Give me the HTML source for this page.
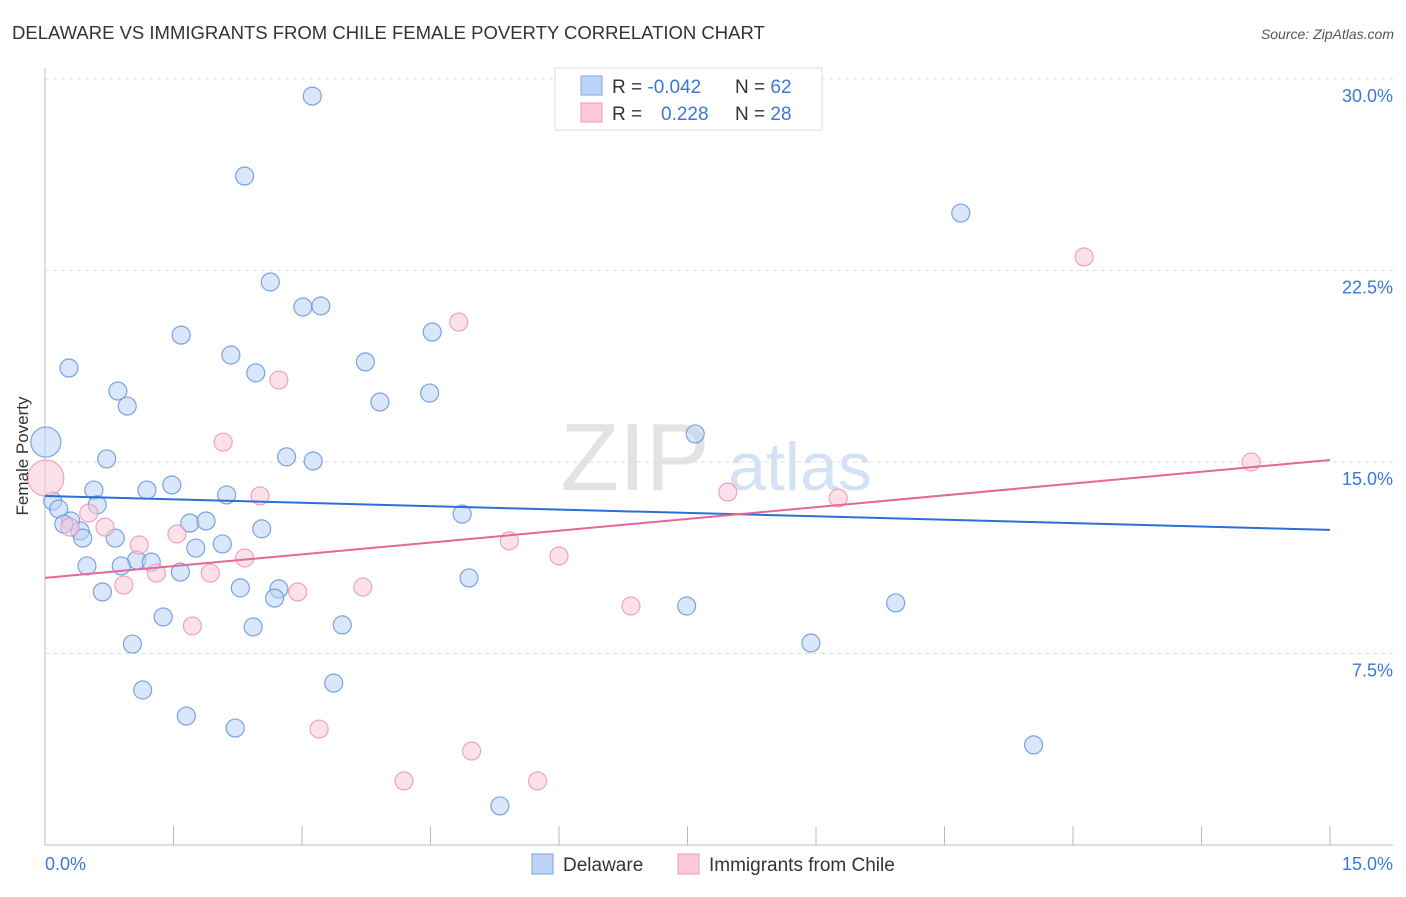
<!DOCTYPE html>
<html><head><meta charset="utf-8">
<style>
body{margin:0;background:#fff;font-family:"Liberation Sans",sans-serif;}
svg text{font-family:"Liberation Sans",sans-serif;}
</style></head>
<body>
<svg id="chart" width="1406" height="892">
  <text x="12" y="39" font-size="18.5" fill="#333">DELAWARE VS IMMIGRANTS FROM CHILE FEMALE POVERTY CORRELATION CHART</text>
  <text x="1394" y="39" font-size="14" fill="#555" font-style="italic" text-anchor="end">Source: ZipAtlas.com</text>
  <g>
    <text x="635" y="490" font-size="96" fill="#e3e3e3" font-family="Liberation Serif, serif" text-anchor="middle">ZIP</text>
    <text x="800" y="490" font-size="68" fill="#d3e2f5" text-anchor="middle">atlas</text>
  </g>
  <g id="grid"></g>
  <g id="axes"></g>
  <g id="marks"></g>
  <text transform="translate(28,456) rotate(-90)" font-size="17" fill="#333" text-anchor="middle">Female Poverty</text>
  <text x="45" y="870" font-size="18" fill="#3a78d8">0.0%</text>
  <text x="1393" y="870" font-size="18" fill="#3a78d8" text-anchor="end">15.0%</text>
  <g>
    <rect x="555" y="68" width="267" height="62" fill="#fff" stroke="#ddd"/>
    <rect x="581" y="76" width="21" height="19" fill="#bcd4f5" stroke="#7fa8e6"/>
    <rect x="581" y="103" width="21" height="19" fill="#fbc9d8" stroke="#f09ab6"/>
    <text x="612" y="93" font-size="19" fill="#333">R = <tspan fill="#3a78d8">-0.042</tspan></text>
    <text x="735" y="93" font-size="19" fill="#333">N = <tspan fill="#3a78d8">62</tspan></text>
    <text x="612" y="120" font-size="19" fill="#333">R = <tspan fill="#3a78d8" x="661">0.228</tspan></text>
    <text x="735" y="120" font-size="19" fill="#333">N = <tspan fill="#3a78d8">28</tspan></text>
  </g>
  <g>
    <rect x="532" y="854" width="21" height="20" fill="#bcd4f5" stroke="#7fa8e6"/>
    <text x="563" y="871" font-size="19" fill="#333">Delaware</text>
    <rect x="678" y="854" width="21" height="20" fill="#fbc9d8" stroke="#f09ab6"/>
    <text x="709" y="871" font-size="19" fill="#333">Immigrants from Chile</text>
  </g>
</svg>
<script>
const yTicks=[7.5,15,22.5,30];
const yTickLabels=["7.5%","15.0%","22.5%","30.0%"];
const xTicks=[0,1.5,3,4.5,6,7.5,9,10.5,12,13.5,15];
const delX=[3.12,2.33,10.69,2.63,3.01,3.22,1.59,4.52,2.17,0.28,2.46,3.74,0.85,0.96,3.91,4.49,0.01,7.59,0.72,2.82,3.13,1.48,0.57,1.19,2.12,0.09,0.61,0.16,4.87,0.30,1.69,1.88,0.22,2.53,0.41,0.44,0.82,2.07,1.76,1.07,1.24,0.49,0.89,1.58,4.95,2.28,2.73,0.67,2.68,7.49,9.93,1.38,2.43,3.47,1.02,8.94,3.37,1.14,1.65,2.22,11.54,5.31];
const delY=[29.33,26.2,24.75,22.05,21.07,21.11,19.97,20.09,19.19,18.68,18.49,18.92,17.78,17.19,17.35,17.70,15.78,16.10,15.12,15.20,15.04,14.10,13.90,13.90,13.71,13.47,13.32,13.16,12.96,12.69,12.61,12.69,12.57,12.38,12.30,12.02,12.02,11.79,11.63,11.16,11.08,10.93,10.93,10.69,10.46,10.07,10.03,9.91,9.67,9.36,9.48,8.93,8.54,8.62,7.87,7.91,6.34,6.07,5.05,4.58,3.92,1.53];
const chiX=[0.01,12.13,4.83,2.73,2.08,14.08,7.97,2.51,9.26,0.51,0.29,0.70,1.54,5.42,1.10,6.0,2.33,1.30,1.93,0.92,2.95,3.71,6.84,1.72,3.20,4.98,4.19,5.75];
const chiY=[14.37,23.03,20.48,18.21,15.78,15.0,13.82,13.67,13.59,13.0,12.45,12.45,12.18,11.91,11.75,11.32,11.24,10.65,10.65,10.18,9.91,10.10,9.36,8.58,4.54,3.68,2.51,2.51];
const delTrend=[13.67,12.34];
const chiTrend=[10.46,15.08];
const NS="http://www.w3.org/2000/svg";
const X=v=>45+v/15*1285, Y=v=>845-v/30*766;
function mk(t,a,p){const e=document.createElementNS(NS,t);for(const k in a)e.setAttribute(k,a[k]);p.appendChild(e);return e;}
const grid=document.getElementById('grid'),axes=document.getElementById('axes'),marks=document.getElementById('marks');
yTicks.forEach((t,i)=>{
  const l=mk('line',{x1:45,x2:1393,y1:Y(t),y2:Y(t),stroke:'#ddd','stroke-dasharray':'4,4'},grid);
  
  
  const tx=mk('text',{x:1393,y:Y(t)+23,'font-size':18,fill:'#3a78d8','text-anchor':'end'},grid);
  tx.textContent=yTickLabels[i];
  
  
});
const ya=mk('line',{x1:45,x2:45,y1:68,y2:845,stroke:'#bbb'},axes);


const xa=mk('line',{x1:45,x2:1393,y1:845,y2:845,stroke:'#bbb'},axes);


xTicks.forEach(t=>{
  const l=mk('line',{x1:X(t),x2:X(t),y1:826,y2:845,stroke:'#bbb'},axes);
  
  
});
function pts(xs,ys,fill,stroke,name,bigIdx,bigR){
  xs.forEach((x,i)=>{
    const c=mk('circle',{cx:X(x),cy:Y(ys[i]),r:i===bigIdx?bigR:9,fill:fill,'fill-opacity':0.55,stroke:stroke,'stroke-opacity':0.8,'stroke-width':1.2},marks);
    
    
  });
}
pts(delX,delY,'#bcd4f5','#5b8fdc','delaware-point',16,15);
pts(chiX,chiY,'#fbc9d8','#ec8fb0','chile-point',0,18);
const tl1=mk('line',{x1:X(0),x2:X(15),y1:Y(delTrend[0]),y2:Y(delTrend[1]),stroke:'#2d6fd6','stroke-width':2},marks);


const tl2=mk('line',{x1:X(0),x2:X(15),y1:Y(chiTrend[0]),y2:Y(chiTrend[1]),stroke:'#e5679a','stroke-width':2},marks);


</script>
</body></html>
